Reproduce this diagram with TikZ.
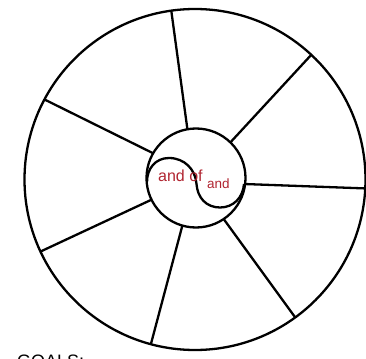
\documentclass[tikz,border=0pt]{standalone}
\usepackage{fontspec}
\setmainfont{Liberation Sans}
\definecolor{wordred}{RGB}{176,36,48}
\begin{document}
\begin{tikzpicture}[x=1pt,y=-1pt,
  ring/.style={circle,draw,line width=2.3pt,inner sep=0pt,outer sep=0pt},
  spoke/.style={line width=2.3pt},
  word/.style={text=wordred,inner sep=0pt,anchor=base west}]
\useasboundingbox (0,0) rectangle (366,358);
\clip (0,0) rectangle (366,358);
\node[ring,minimum size=341pt] (outer) at (195,179.5) {};
\node[ring,minimum size=99pt] (inner) at (196,178) {};
\draw[spoke] (outer.98) -- (inner.100.5);
\draw[spoke] (outer.47.4) -- (inner.46.9);
\draw[spoke] (outer.-3.9) -- (inner.-7.3);
\draw[spoke] (outer.-54.8) -- (inner.-56.3);
\draw[spoke] (outer.-105.6) -- (inner.-106.4);
\draw[spoke] (outer.205.5) -- (inner.206.9);
\draw[spoke] (outer.152.9) -- (inner.150);
\draw[spoke] (147,182) .. controls (147,168.5) and (155.5,158) .. (169,158)
  .. controls (184.5,158) and (195.5,169.5) .. (196.5,184)
  .. controls (197.5,198) and (206.5,207.5) .. (220,207.5)
  .. controls (233.5,207.5) and (243,197.5) .. (244,184);
\node[word,font=\fontsize{16}{18}\selectfont] (w1) at (158,181) {and of};
\node[word,font=\fontsize{13.5}{16}\selectfont] (w2) at (207,188.3) {and};
\node[anchor=base west,inner sep=0pt,font=\fontsize{18}{20}\selectfont] (goals) at (17,367) {GOALS:};
\end{tikzpicture}
\end{document}
